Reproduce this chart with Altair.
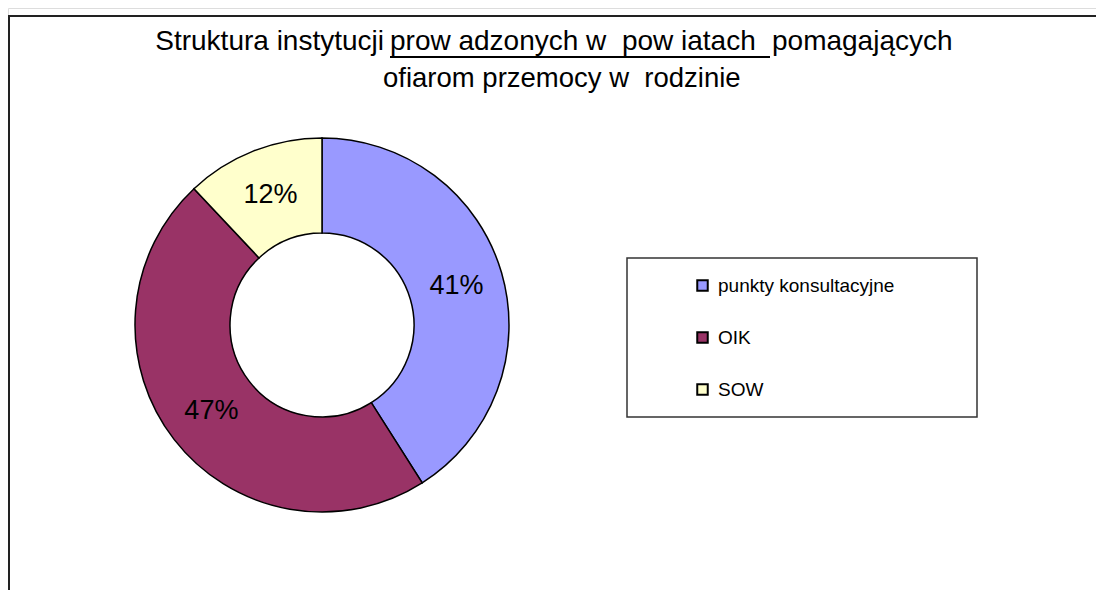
import altair as alt
import pandas as pd

# ---- data ----
categories = ["punkty konsultacyjne", "OIK", "SOW"]
values = [41, 47, 12]
colors = ["#9999FF", "#993366", "#FFFFCC"]
title_line1 = ["Struktura instytucji", "prow adzonych w\u00a0 pow iatach", "pomagających"]
title_line2 = "ofiarom przemocy w\u00a0 rodzinie"

FONT = "Liberation Sans"

df = pd.DataFrame({
    "kategoria": categories,
    "wartosc": values,
    "kolejnosc": list(range(len(categories))),
    "etykieta": [f"{v}%" for v in values],
})

one = pd.DataFrame({"k": [0]})

CX, CY = 314, 317

color_scale = alt.Scale(domain=categories, range=colors)

arcs = alt.Chart(df).mark_arc(
    outerRadius=187, innerRadius=92, stroke="black", strokeWidth=1.5
).encode(
    theta=alt.Theta("wartosc:Q", stack=True),
    order=alt.Order("kolejnosc:Q"),
    color=alt.Color(
        "kategoria:N",
        scale=color_scale,
        sort=categories,
        legend=alt.Legend(
            title=None,
            orient="none",
            legendX=685,
            legendY=268,
            labelFont=FONT,
            labelFontSize=19,
            labelColor="black",
            labelLimit=400,
            symbolType="square",
            symbolSize=110,
            symbolStrokeColor="black",
            symbolStrokeWidth=2,
            labelOffset=6,
            rowPadding=32,
            padding=0,
        ),
    ),
    x=alt.value(CX),
    y=alt.value(CY),
)

labels = alt.Chart(df).mark_text(
    radius=140, font=FONT, fontSize=27, color="black"
).encode(
    theta=alt.Theta("wartosc:Q", stack=True),
    order=alt.Order("kolejnosc:Q"),
    text="etykieta:N",
    x=alt.value(CX),
    y=alt.value(CY),
)

def title_text(txt, xpos, ypos, size, align="left"):
    return alt.Chart(one).mark_text(
        font=FONT, fontSize=size, align=align, baseline="alphabetic", color="black"
    ).encode(x=alt.value(xpos), y=alt.value(ypos), text=alt.value(txt))

t1a = title_text(title_line1[0], 376, 42, 28, align="right")
t1b = title_text(title_line1[1], 382, 42, 28)
t1c = title_text(title_line1[2], 764, 42, 28)
t2 = title_text(title_line2, 375, 79, 27.5)

underline = alt.Chart(one).mark_rule(color="black", strokeWidth=2).encode(
    x=alt.value(382), x2=alt.value(762), y=alt.value(49)
)

frame_top = alt.Chart(one).mark_rule(color="#222222", strokeWidth=2).encode(
    x=alt.value(0), x2=alt.value(1100), y=alt.value(8)
)
frame_left = alt.Chart(one).mark_rule(color="#222222", strokeWidth=2).encode(
    x=alt.value(1), y=alt.value(8), y2=alt.value(600)
)

legend_box = alt.Chart(one).mark_rect(
    fill="white", stroke="#333333", strokeWidth=1.5
).encode(
    x=alt.value(619), x2=alt.value(969), y=alt.value(250), y2=alt.value(409)
)

chart = alt.layer(
    frame_top, frame_left, legend_box, arcs, labels, underline, t1a, t1b, t1c, t2
).properties(
    width=1088, height=582, padding=0, autosize="none"
).configure_view(stroke=None).configure(font=FONT)

chart.save("out.html", embed_options={"renderer": "svg", "actions": False})
